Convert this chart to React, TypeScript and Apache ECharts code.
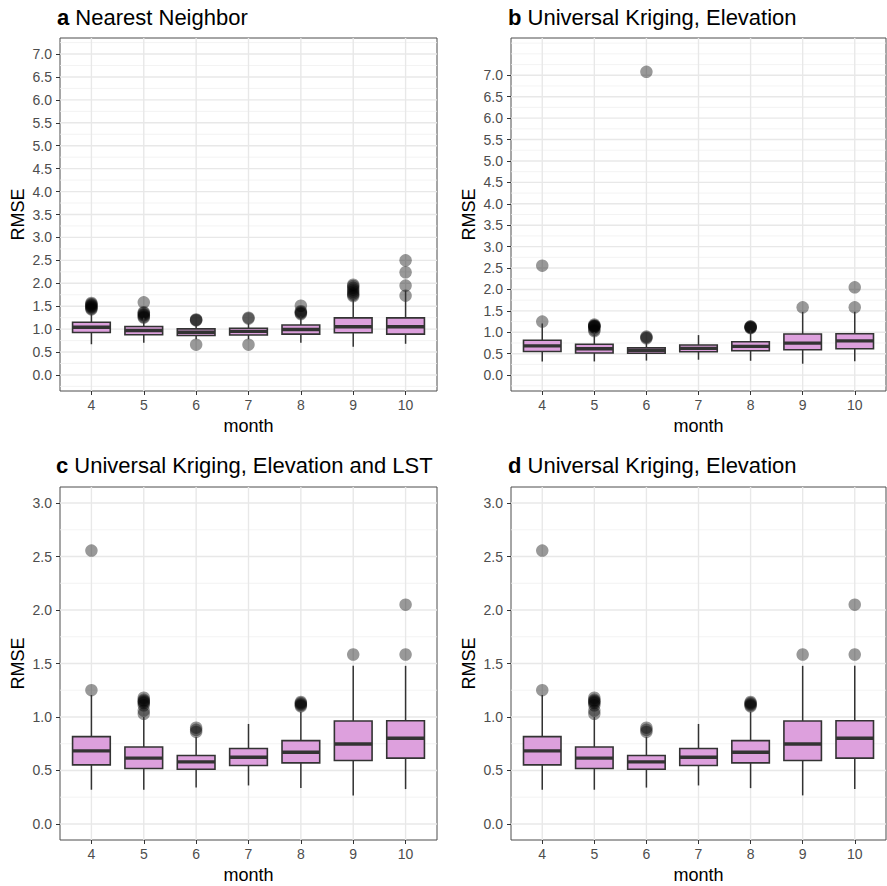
import React, { useEffect, useRef } from "react";
import * as echarts from "echarts";

// ---------- categories ----------
const months = [4, 5, 6, 7, 8, 9, 10];

// ---------- panel a: Nearest Neighbor ----------
const nnLow = [0.67, 0.7, 0.78, 0.78, 0.7, 0.615, 0.68];
const nnQ1 = [0.927, 0.876, 0.86, 0.87, 0.89, 0.92, 0.89];
const nnMed = [1.04, 0.97, 0.93, 0.95, 0.99, 1.05, 1.05];
const nnQ3 = [1.15, 1.057, 1.006, 1.02, 1.09, 1.245, 1.245];
const nnHigh = [1.35, 1.25, 1.12, 1.12, 1.28, 1.66, 1.84];
const nnOutliers = [
  [4, 1.43], [4, 1.45], [4, 1.47], [4, 1.49], [4, 1.51], [4, 1.53], [4, 1.55], [4, 1.57],
  [5, 1.25], [5, 1.27], [5, 1.3], [5, 1.32], [5, 1.35], [5, 1.37], [5, 1.585],
  [6, 1.19], [6, 1.2], [6, 1.21], [6, 0.66],
  [7, 1.23], [7, 1.25], [7, 0.66],
  [8, 1.33], [8, 1.35], [8, 1.37], [8, 1.39], [8, 1.51],
  [9, 1.72], [9, 1.75], [9, 1.78], [9, 1.82], [9, 1.86], [9, 1.9], [9, 1.94], [9, 1.97],
  [10, 1.73], [10, 1.95], [10, 2.24], [10, 2.5],
];

// ---------- panel b / d: Universal Kriging, Elevation ----------
const ukeLow = [0.32, 0.32, 0.34, 0.36, 0.335, 0.267, 0.326];
const ukeQ1 = [0.552, 0.518, 0.512, 0.546, 0.571, 0.593, 0.615];
const ukeMed = [0.683, 0.615, 0.58, 0.624, 0.671, 0.748, 0.801];
const ukeQ3 = [0.816, 0.72, 0.64, 0.705, 0.779, 0.962, 0.965];
const ukeHigh = [1.205, 1.0, 0.816, 0.935, 1.05, 1.478, 1.478];
const ukeOutliers = [
  [4, 1.251], [4, 2.556],
  [5, 1.03], [5, 1.06], [5, 1.11], [5, 1.13], [5, 1.14], [5, 1.15], [5, 1.16], [5, 1.18],
  [6, 0.86], [6, 0.88], [6, 0.9], [6, 7.08],
  [8, 1.1], [8, 1.11], [8, 1.12], [8, 1.13], [8, 1.14],
  [9, 1.584],
  [10, 1.584], [10, 2.05],
];

// ---------- panel c: Universal Kriging, Elevation and LST ----------
const uklLow = [0.32, 0.32, 0.34, 0.36, 0.335, 0.267, 0.326];
const uklQ1 = [0.552, 0.518, 0.512, 0.546, 0.571, 0.593, 0.615];
const uklMed = [0.683, 0.615, 0.58, 0.624, 0.671, 0.748, 0.801];
const uklQ3 = [0.816, 0.72, 0.64, 0.705, 0.779, 0.962, 0.965];
const uklHigh = [1.205, 1.0, 0.816, 0.935, 1.05, 1.478, 1.478];
const uklOutliers = [
  [4, 1.251], [4, 2.556],
  [5, 1.03], [5, 1.06], [5, 1.11], [5, 1.13], [5, 1.14], [5, 1.15], [5, 1.16], [5, 1.18],
  [6, 0.86], [6, 0.88], [6, 0.9],
  [8, 1.1], [8, 1.11], [8, 1.12], [8, 1.13], [8, 1.14],
  [9, 1.584],
  [10, 1.584], [10, 2.05],
];
// panel d outliers inside its 0–3 range
const ukdOutliers = [
  [4, 1.251], [4, 2.556],
  [5, 1.03], [5, 1.06], [5, 1.11], [5, 1.13], [5, 1.14], [5, 1.15], [5, 1.16], [5, 1.18],
  [6, 0.86], [6, 0.88], [6, 0.9],
  [8, 1.1], [8, 1.11], [8, 1.12], [8, 1.13], [8, 1.14],
  [9, 1.584],
  [10, 1.584], [10, 2.05],
];

// ---------- tick labels / grid breaks ----------
const yTicks7 = [0, 0.5, 1, 1.5, 2, 2.5, 3, 3.5, 4, 4.5, 5, 5.5, 6, 6.5, 7];
const yMinorA = [-0.25, 0.25, 0.75, 1.25, 1.75, 2.25, 2.75, 3.25, 3.75, 4.25, 4.75, 5.25, 5.75, 6.25, 6.75, 7.25];
const yMinorB = [-0.25, 0.25, 0.75, 1.25, 1.75, 2.25, 2.75, 3.25, 3.75, 4.25, 4.75, 5.25, 5.75, 6.25, 6.75, 7.25, 7.5, 7.75];
const yTicks3 = [0, 0.5, 1, 1.5, 2, 2.5, 3];
const yMinorC = [0.25, 0.75, 1.25, 1.75, 2.25, 2.75];

const FONT = "'Liberation Sans', Arial, Helvetica, sans-serif";
const FILL = "#DDA0DD";
const EDGE = "#333333";
const BOX_W = 0.72;

type Panel = {
  letter: string;
  title: string;
  low: number[]; q1: number[]; med: number[]; q3: number[]; high: number[];
  outliers: number[][];
  yMin: number; yMax: number;
  yTicks: number[]; yMinor: number[];
  grid: { left: number; top: number; width: number; height: number };
  titlePos: [number, number];
};

const panels: Panel[] = [
  {
    letter: "a", title: "Nearest Neighbor",
    low: nnLow, q1: nnQ1, med: nnMed, q3: nnQ3, high: nnHigh, outliers: nnOutliers,
    yMin: -0.35, yMax: 7.35, yTicks: yTicks7, yMinor: yMinorA,
    grid: { left: 60, top: 38, width: 377, height: 353 }, titlePos: [57, 17],
  },
  {
    letter: "b", title: "Universal Kriging, Elevation",
    low: ukeLow, q1: ukeQ1, med: ukeMed, q3: ukeQ3, high: ukeHigh, outliers: ukeOutliers,
    yMin: -0.37, yMax: 7.87, yTicks: yTicks7, yMinor: yMinorB,
    grid: { left: 511, top: 38, width: 375, height: 353 }, titlePos: [508, 17],
  },
  {
    letter: "c", title: "Universal Kriging, Elevation and LST",
    low: uklLow, q1: uklQ1, med: uklMed, q3: uklQ3, high: uklHigh, outliers: uklOutliers,
    yMin: -0.15, yMax: 3.15, yTicks: yTicks3, yMinor: yMinorC,
    grid: { left: 60, top: 487, width: 377, height: 353 }, titlePos: [56, 465],
  },
  {
    letter: "d", title: "Universal Kriging, Elevation",
    low: ukeLow, q1: ukeQ1, med: ukeMed, q3: ukeQ3, high: ukeHigh, outliers: ukdOutliers,
    yMin: -0.15, yMax: 3.15, yTicks: yTicks3, yMinor: yMinorC,
    grid: { left: 511, top: 487, width: 375, height: 353 }, titlePos: [508, 465],
  },
];

function buildOption() {
  const grids: any[] = [];
  const xAxes: any[] = [];
  const yAxes: any[] = [];
  const series: any[] = [];
  const graphics: any[] = [];

  panels.forEach((p, i) => {
    grids.push({
      ...p.grid,
      show: true,
      borderColor: "#4d4d4d",
      borderWidth: 1,
      backgroundColor: "#ffffff",
      containLabel: false,
    });
    xAxes.push({
      type: "value",
      gridIndex: i,
      position: "bottom",
      min: 3.4,
      max: 10.6,
      name: "month",
      nameLocation: "middle",
      nameGap: 26,
      nameTextStyle: { fontSize: 18, color: "#000", fontFamily: FONT },
      axisLine: { show: false, onZero: false },
      axisTick: { show: true, length: 4, customValues: months, lineStyle: { color: EDGE, width: 1 } },
      axisLabel: {
        show: true, customValues: months, margin: 7, fontSize: 14, color: "#4d4d4d", fontFamily: FONT,
        formatter: (v: number) => (Number.isInteger(v) ? String(v) : ""),
      },
      splitLine: { show: false },
    });
    yAxes.push({
      type: "value",
      gridIndex: i,
      position: "left",
      min: p.yMin,
      max: p.yMax,
      name: "RMSE",
      nameLocation: "middle",
      nameGap: 33,
      nameTextStyle: { fontSize: 18, color: "#000", fontFamily: FONT },
      axisLine: { show: false, onZero: false },
      axisTick: { show: true, length: 4, customValues: p.yTicks, lineStyle: { color: EDGE, width: 1 } },
      axisLabel: {
        show: true, customValues: p.yTicks, margin: 8, fontSize: 14, color: "#4d4d4d", fontFamily: FONT,
        formatter: (v: number) => {
          const ok = p.yTicks.some((t) => Math.abs(t - v) < 1e-9);
          return ok ? v.toFixed(1) : "";
        },
      },
      splitLine: { show: false },
    });

    // panel grid lines (major + minor horizontals, verticals at months), drawn in one item
    series.push({
      type: "custom",
      xAxisIndex: i,
      yAxisIndex: i,
      silent: true,
      z: 1,
      clip: false,
      encode: { x: 0, y: 1 },
      data: [[months[0], p.yTicks[0]]],
      renderItem: (params: any, api: any) => {
        const cs = params.coordSys;
        const children: any[] = [];
        p.yMinor.forEach((v) => {
          const y = api.coord([months[0], v])[1];
          children.push({
            type: "line",
            shape: { x1: cs.x, y1: y, x2: cs.x + cs.width, y2: y },
            style: { stroke: "#f0f0f0", lineWidth: 0.8 },
          });
        });
        p.yTicks.forEach((v) => {
          const y = api.coord([months[0], v])[1];
          children.push({
            type: "line",
            shape: { x1: cs.x, y1: y, x2: cs.x + cs.width, y2: y },
            style: { stroke: "#e8e8e8", lineWidth: 1.4 },
          });
        });
        months.forEach((m) => {
          const x = api.coord([m, p.yTicks[0]])[0];
          children.push({
            type: "line",
            shape: { x1: x, y1: cs.y, x2: x, y2: cs.y + cs.height },
            style: { stroke: "#e8e8e8", lineWidth: 1.4 },
          });
        });
        return { type: "group", children };
      },
    });

    // outliers
    series.push({
      type: "scatter",
      xAxisIndex: i,
      yAxisIndex: i,
      silent: true,
      z: 2,
      symbol: "circle",
      symbolSize: 12.5,
      itemStyle: { color: "rgba(0,0,0,0.5)", borderWidth: 0 },
      data: p.outliers,
    });

    // boxes
    series.push({
      type: "custom",
      xAxisIndex: i,
      yAxisIndex: i,
      silent: true,
      z: 3,
      encode: { x: 0, y: [1, 2, 3, 4, 5] },
      data: months.map((m, k) => [m, p.low[k], p.q1[k], p.med[k], p.q3[k], p.high[k]]),
      renderItem: (params: any, api: any) => {
        const xv = api.value(0);
        const lo = api.coord([xv, api.value(1)]);
        const a1 = api.coord([xv, api.value(2)]);
        const md = api.coord([xv, api.value(3)]);
        const a3 = api.coord([xv, api.value(4)]);
        const hi = api.coord([xv, api.value(5)]);
        const w = api.size([BOX_W, 0])[0];
        const cx = lo[0];
        return {
          type: "group",
          children: [
            { type: "line", shape: { x1: cx, y1: lo[1], x2: cx, y2: a1[1] }, style: { stroke: EDGE, lineWidth: 1.5 } },
            { type: "line", shape: { x1: cx, y1: a3[1], x2: cx, y2: hi[1] }, style: { stroke: EDGE, lineWidth: 1.5 } },
            {
              type: "rect",
              shape: { x: cx - w / 2, y: a3[1], width: w, height: a1[1] - a3[1] },
              style: { fill: FILL, stroke: EDGE, lineWidth: 1.6 },
            },
            { type: "line", shape: { x1: cx - w / 2, y1: md[1], x2: cx + w / 2, y2: md[1] }, style: { stroke: EDGE, lineWidth: 3.4 } },
          ],
        };
      },
    });

    graphics.push({
      type: "text",
      x: p.titlePos[0],
      y: p.titlePos[1],
      silent: true,
      style: {
        text: `{b|${p.letter}} ${p.title}`,
        fontSize: 22,
        fontFamily: FONT,
        fill: "#000",
        verticalAlign: "middle",
        rich: { b: { fontSize: 22, fontWeight: "bold", fontFamily: FONT, fill: "#000" } },
      },
    });
  });

  return {
    animation: false,
    backgroundColor: "#ffffff",
    textStyle: { fontFamily: FONT },
    grid: grids,
    xAxis: xAxes,
    yAxis: yAxes,
    series,
    graphic: graphics,
  };
}

export default function App() {
  const ref = useRef<HTMLDivElement>(null);
  useEffect(() => {
    document.body.style.margin = "0";
    if (!ref.current) return;
    const chart = echarts.init(ref.current, undefined, { renderer: "svg" });
    chart.setOption(buildOption() as any);
    return () => chart.dispose();
  }, []);
  return <div ref={ref} style={{ width: 887, height: 886 }} />;
}
